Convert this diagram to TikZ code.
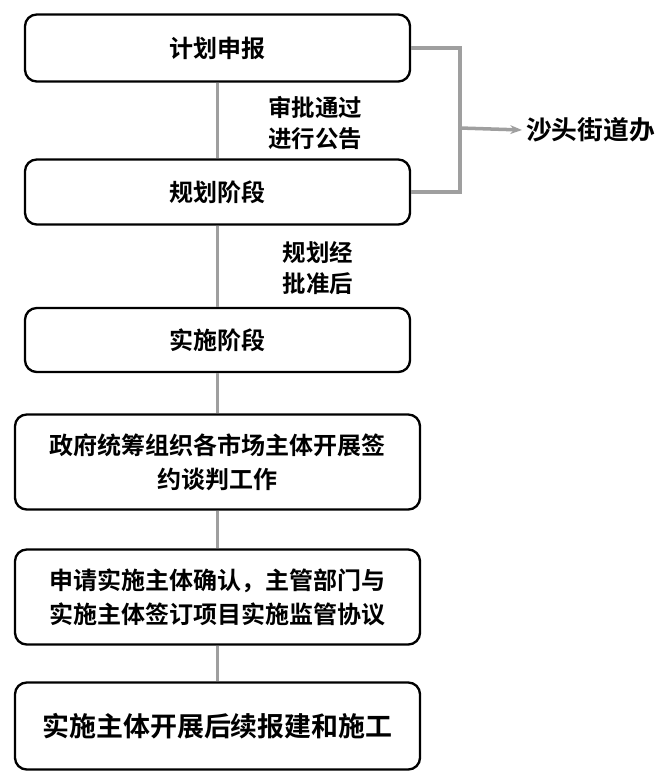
\documentclass[tikz,border=0pt]{standalone}
\usepackage{fontspec}
\setmainfont{Noto Sans CJK SC}[BoldFont={* Bold}]
\usetikzlibrary{arrows.meta}
\tikzset{
  stagebox/.style={draw=black,line width=2pt,rounded corners=10pt,fill=white,
    align=center,font=\bfseries\fontsize{20.5}{29}\selectfont,inner sep=0pt},
  linkline/.style={draw=gray!75,line width=3pt},
  tag/.style={align=center,font=\bfseries\fontsize{20}{27}\selectfont}
}
\begin{document}
\begin{tikzpicture}[x=0.03cm,y=-0.03cm]
    \useasboundingbox (0,0) rectangle (672,784);
    % the stage boxes
    \node[stagebox,minimum width=385*0.03cm,minimum height=67*0.03cm] (plan) at (217.5,48) {计划申报};
    \node[stagebox,minimum width=385*0.03cm,minimum height=65*0.03cm] (design) at (217.5,192) {规划阶段};
    \node[stagebox,minimum width=385*0.03cm,minimum height=64*0.03cm] (carry) at (217.5,340) {实施阶段};
    \node[stagebox,minimum width=405*0.03cm,minimum height=95*0.03cm] (talks) at (217.5,462) {政府统筹组织各市场主体开展签\\约谈判工作};
    \node[stagebox,minimum width=405*0.03cm,minimum height=95*0.03cm] (confirm) at (217.5,597) {申请实施主体确认，主管部门与\\实施主体签订项目实施监管协议};
    \node[stagebox,minimum width=405*0.03cm,minimum height=87*0.03cm,font=\bfseries\fontsize{23}{29}\selectfont] (build) at (217.5,726) {实施主体开展后续报建和施工};
    % the links between them
    \foreach \a/\b in {plan/design, design/carry, carry/talks, talks/confirm, confirm/build}{
      \draw[linkline] (\a.south) -- (\b.north);
    }
    \node[tag] (pass) at (315,123) {审批通过\\进行公告};
    \node[tag] (ok) at (318,268) {规划经\\批准后};
    % bracket to the sub-district office
    \coordinate (top) at (460,48);
    \coordinate (bot) at (460,192);
    \coordinate (mid) at (460,128);
    \node[tag,anchor=west,font=\bfseries\fontsize{22}{27}\selectfont] (office) at (522,130) {沙头街道办};
    \draw[linkline] (plan.east) -- (top) -- (bot) -- (design.east);
    \draw[linkline,-{Stealth[length=10pt]}] (mid) -- (office.west);
\end{tikzpicture}
\end{document}
